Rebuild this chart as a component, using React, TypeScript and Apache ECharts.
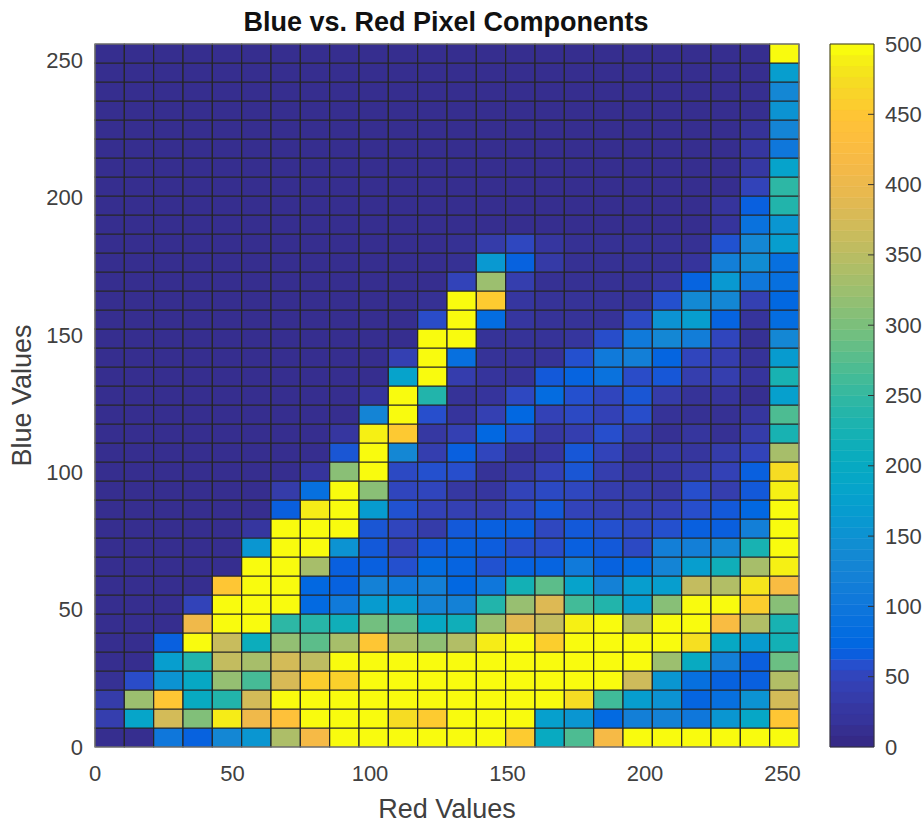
import React, { useEffect, useRef } from "react";
import * as echarts from "echarts";

const titleText = "Blue vs. Red Pixel Components";
const xName = "Red Values";
const yName = "Blue Values";

// counts per Red bin (24 columns), one array per Blue bin (37 rows), bottom row first
const row00 = [7,7,100,67,130,155,340,418,500,500,500,500,500,500,458,200,270,418,500,500,500,500,500,500];
const row01 = [35,185,375,305,490,409,445,500,500,500,476,458,500,500,500,175,155,75,115,120,100,155,190,453];
const row02 = [31,325,453,200,235,375,500,500,500,500,500,500,500,500,500,500,476,260,170,150,69,85,150,375];
const row03 = [11,53,150,195,320,265,380,462,465,500,500,500,500,500,500,500,500,500,370,155,85,67,65,345];
const row04 = [7,7,170,235,360,335,375,355,500,500,500,500,500,500,500,500,500,500,500,325,200,115,64,290];
const row05 = [7,7,65,500,365,210,318,280,335,453,335,315,345,490,500,462,500,500,500,500,479,195,165,220];
const row06 = [7,7,7,409,500,500,245,240,215,295,285,195,215,322,390,360,493,500,345,500,500,427,345,225];
const row07 = [7,7,7,45,500,500,500,75,105,165,170,125,120,235,322,385,262,235,170,310,500,500,462,310];
const row08 = [7,7,7,7,453,500,500,72,67,120,105,115,72,100,220,280,180,120,170,170,360,345,484,427];
const row09 = [7,7,7,7,7,500,500,335,65,65,56,78,68,57,67,68,105,67,78,125,170,215,335,493];
const row10 = [7,7,7,7,7,155,500,500,150,61,42,61,67,63,54,54,65,61,51,115,115,130,225,500];
const row11 = [7,7,7,7,7,21,500,500,500,59,48,31,61,65,65,49,61,56,51,56,65,64,115,500];
const row12 = [7,7,7,7,7,7,64,490,500,165,57,42,39,35,50,61,45,39,39,42,55,61,72,500];
const row13 = [7,7,7,7,7,7,31,85,500,312,48,48,25,21,45,51,49,34,31,25,55,35,61,493];
const row14 = [7,7,7,7,7,7,7,17,312,500,51,56,55,14,25,42,59,35,21,21,31,42,65,476];
const row15 = [7,7,7,7,7,7,7,7,59,500,130,36,65,48,14,22,60,45,17,25,20,31,45,335];
const row16 = [7,7,7,7,7,7,7,7,21,493,456,25,39,72,55,25,36,55,31,11,20,11,31,225];
const row17 = [7,7,7,7,7,7,7,7,7,125,500,55,17,39,72,42,51,42,54,14,11,11,20,270];
const row18 = [7,7,7,7,7,7,7,7,7,17,500,235,14,17,50,78,56,48,59,31,14,17,8,175];
const row19 = [7,7,7,7,7,7,7,7,7,7,180,500,34,17,14,61,68,90,53,60,35,35,17,225];
const row20 = [7,7,7,7,7,7,7,7,7,7,39,500,85,14,14,14,56,105,115,69,48,34,14,165];
const row21 = [7,7,7,7,7,7,7,7,7,7,7,500,500,14,14,14,20,54,105,130,112,48,11,130];
const row22 = [7,7,7,7,7,7,7,7,7,7,7,53,500,80,21,14,14,14,51,150,170,68,17,80];
const row23 = [7,7,7,7,7,7,7,7,7,7,7,11,500,458,22,14,14,14,14,56,135,130,39,72];
const row24 = [7,7,7,7,7,7,7,7,7,7,7,7,45,325,35,11,11,11,11,21,68,160,100,85];
const row25 = [7,7,7,7,7,7,7,7,7,7,7,7,11,160,67,28,11,11,11,11,17,115,140,85];
const row26 = [7,7,7,7,7,7,7,7,7,7,7,7,11,31,49,21,11,11,11,11,11,57,130,170];
const row27 = [7,7,7,7,7,7,7,7,7,7,7,7,7,7,7,7,7,7,7,7,7,17,90,155];
const row28 = [7,7,7,7,7,7,7,7,7,7,7,7,7,7,7,7,7,7,7,7,7,17,65,235];
const row29 = [7,7,7,7,7,7,7,7,7,7,7,7,7,7,7,7,7,7,7,7,7,7,45,245];
const row30 = [7,7,7,7,7,7,7,7,7,7,7,7,7,7,7,7,7,7,7,7,7,7,25,180];
const row31 = [7,7,7,7,7,7,7,7,7,7,7,7,7,7,7,7,7,7,7,7,7,7,21,100];
const row32 = [7,7,7,7,7,7,7,7,7,7,7,7,7,7,7,7,7,7,7,7,7,7,14,125];
const row33 = [7,7,7,7,7,7,7,7,7,7,7,7,7,7,7,7,7,7,7,7,7,7,8,150];
const row34 = [7,7,7,7,7,7,7,7,7,7,7,7,7,7,7,7,7,7,7,7,7,7,8,130];
const row35 = [7,7,7,7,7,7,7,7,7,7,7,7,7,7,7,7,7,7,7,7,7,7,7,170];
const row36 = [7,7,7,7,7,7,7,7,7,7,7,7,7,7,7,7,7,7,7,7,7,7,7,500];

const rows = [
  row00, row01, row02, row03, row04, row05, row06, row07, row08, row09,
  row10, row11, row12, row13, row14, row15, row16, row17, row18, row19,
  row20, row21, row22, row23, row24, row25, row26, row27, row28, row29,
  row30, row31, row32, row33, row34, row35, row36,
];

const axisMax = 256;
const colorMax = 500;
const colorbarTicks = [50, 100, 150, 200, 250, 300, 350, 400, 450];

const parula = [
  [0.2081,0.1663,0.5292],[0.2106,0.1827,0.5629],[0.2119,0.2042,0.6073],[0.2119,0.2163,0.632],
  [0.209,0.2336,0.667],[0.202,0.2515,0.7025],[0.191,0.27,0.738],[0.148,0.308,0.805],
  [0.045,0.368,0.872],[0.006,0.4086,0.8828],[0.0165,0.4266,0.8786],[0.0329,0.443,0.872],
  [0.0498,0.4586,0.8641],[0.0629,0.4737,0.8554],[0.0723,0.4887,0.8467],[0.0779,0.504,0.8384],
  [0.0793,0.52,0.8312],[0.0749,0.5375,0.8263],[0.0641,0.557,0.824],[0.0488,0.5772,0.8228],
  [0.0343,0.5966,0.8199],[0.0265,0.6137,0.8135],[0.0239,0.6287,0.8038],[0.0231,0.6418,0.7913],
  [0.0228,0.6535,0.7768],[0.0267,0.6642,0.7607],[0.0384,0.6743,0.7436],[0.059,0.6838,0.7254],
  [0.0843,0.6928,0.7062],[0.1133,0.7015,0.6859],[0.1453,0.7098,0.6646],[0.1801,0.7177,0.6424],
  [0.2178,0.725,0.6193],[0.2586,0.7317,0.5954],[0.3022,0.7376,0.5712],[0.3482,0.7424,0.5473],
  [0.3953,0.7459,0.5244],[0.442,0.7481,0.5033],[0.4871,0.7491,0.484],[0.53,0.7491,0.4661],
  [0.5709,0.7485,0.4494],[0.6099,0.7473,0.4337],[0.6473,0.7456,0.4188],[0.6834,0.7435,0.4044],
  [0.7184,0.7411,0.3905],[0.7525,0.7384,0.3768],[0.7858,0.7356,0.3633],[0.8185,0.7327,0.3498],
  [0.8507,0.7299,0.336],[0.8824,0.7274,0.3217],[0.9139,0.7258,0.3063],[0.93,0.726,0.297],
  [0.951,0.727,0.284],[0.968,0.73,0.271],[0.982,0.737,0.256],[0.9938,0.7455,0.2403],
  [0.997,0.757,0.226],[0.998,0.774,0.209],[0.988,0.805,0.181],[0.976,0.833,0.159],
  [0.965,0.864,0.136],[0.96,0.899,0.11],[0.963,0.939,0.083],[0.9763,0.9831,0.0538],
];
const palette = parula.map(
  ([r, g, b]) => `rgb(${Math.round(r * 255)},${Math.round(g * 255)},${Math.round(b * 255)})`
);

const font = "Liberation Sans";
const labelGray = "#404040";

export default function App() {
  const ref = useRef<HTMLDivElement>(null);
  useEffect(() => {
    const chart = echarts.init(ref.current!, undefined, { renderer: "svg" });
    const nCols = rows[0].length;
    const nRows = rows.length;
    const cells: number[][] = [];
    rows.forEach((row, j) =>
      row.forEach((v, i) =>
        cells.push([
          (i * axisMax) / nCols,
          ((i + 1) * axisMax) / nCols,
          (j * axisMax) / nRows,
          ((j + 1) * axisMax) / nRows,
          v,
        ])
      )
    );
    const bands = palette.map((c, i) => [
      0,
      1,
      (i * colorMax) / palette.length,
      ((i + 1) * colorMax) / palette.length,
      i,
    ]);
    const rectItem = (params: any, api: any, fill: string, stroke: string | null) => {
      const a = api.coord([api.value(0), api.value(2)]);
      const b = api.coord([api.value(1), api.value(3)]);
      return {
        type: "rect",
        shape: { x: a[0], y: b[1], width: b[0] - a[0], height: a[1] - b[1] },
        style: stroke
          ? { fill, stroke, lineWidth: 1.2 }
          : { fill, stroke: fill, lineWidth: 0.5 },
      };
    };
    const axisText = { color: labelGray, fontFamily: font, fontSize: 22 };
    chart.setOption({
      animation: false,
      backgroundColor: "#ffffff",
      title: {
        text: titleText,
        left: 441,
        top: 3,
        textAlign: "center",
        textStyle: { fontFamily: font, fontSize: 27, fontWeight: "bold", color: "#111111" },
      },
      visualMap: {
        show: false,
        seriesIndex: 0,
        dimension: 4,
        min: 0,
        max: colorMax,
        inRange: { color: palette },
      },
      grid: [
        { left: 95, top: 44, width: 704, height: 703, outerBoundsMode: "none", show: true, z: 3, backgroundColor: "transparent", borderColor: "#8c8c8c", borderWidth: 1 },
        { left: 830, top: 44, width: 44, height: 703, outerBoundsMode: "none", show: true, z: 3, backgroundColor: "transparent", borderColor: "#333333", borderWidth: 1 },
      ],
      xAxis: [
        {
          type: "value",
          gridIndex: 0,
          min: 0,
          max: axisMax,
          interval: 50,
          name: xName,
          nameLocation: "middle",
          nameGap: 48,
          nameTextStyle: { color: labelGray, fontFamily: font, fontSize: 27 },
          splitLine: { show: false },
          axisLine: { show: false },
          axisTick: { show: false },
          axisLabel: { ...axisText, margin: 15, showMaxLabel: false },
        },
        { type: "value", gridIndex: 1, min: 0, max: 1, show: false },
      ],
      yAxis: [
        {
          type: "value",
          gridIndex: 0,
          min: 0,
          max: axisMax,
          interval: 50,
          name: yName,
          nameLocation: "middle",
          nameGap: 57,
          nameTextStyle: { color: labelGray, fontFamily: font, fontSize: 27 },
          splitLine: { show: false },
          axisLine: { show: false },
          axisTick: { show: false },
          axisLabel: { ...axisText, margin: 12, showMaxLabel: false },
        },
        {
          type: "value",
          gridIndex: 1,
          position: "right",
          min: 0,
          max: colorMax,
          interval: 50,
          splitLine: { show: false },
          axisLine: { show: false },
          axisTick: { show: false },
          axisLabel: { ...axisText, margin: 11 },
        },
      ],
      series: [
        {
          type: "custom",
          xAxisIndex: 0,
          yAxisIndex: 0,
          coordinateSystem: "cartesian2d",
          encode: { x: [0, 1], y: [2, 3] },
          data: cells,
          renderItem: (params: any, api: any) =>
            rectItem(params, api, api.visual("color"), "#262626"),
        },
        {
          type: "custom",
          xAxisIndex: 1,
          yAxisIndex: 1,
          coordinateSystem: "cartesian2d",
          encode: { x: [0, 1], y: [2, 3] },
          data: bands,
          renderItem: (params: any, api: any) =>
            rectItem(params, api, palette[api.value(4)], null),
        },
        {
          type: "custom",
          xAxisIndex: 1,
          yAxisIndex: 1,
          coordinateSystem: "cartesian2d",
          encode: { x: 0, y: 1 },
          data: colorbarTicks.map((t) => [1, t]),
          renderItem: (params: any, api: any) => {
            const p = api.coord([api.value(0), api.value(1)]);
            return {
              type: "line",
              shape: { x1: p[0] - 6, y1: p[1], x2: p[0], y2: p[1] },
              style: { stroke: "#333333", lineWidth: 1 },
            };
          },
        },
      ],
    });
    return () => chart.dispose();
  }, []);
  return <div ref={ref} style={{ width: 923, height: 822, position: "absolute", left: 0, top: 0 }} />;
}
